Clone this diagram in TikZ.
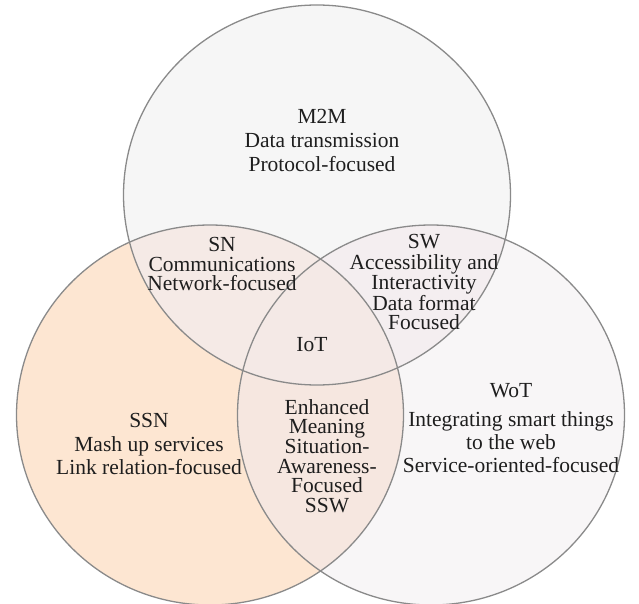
\documentclass[tikz,border=0pt]{standalone}
\usepackage{fontspec}
\setmainfont{Liberation Serif}
\definecolor{ringgray}{HTML}{8A8A8A}
\definecolor{txt}{HTML}{1E1E1E}
\definecolor{topfill}{HTML}{F6F6F6}
\definecolor{leftfill}{HTML}{FDE6D2}
\definecolor{rightfill}{HTML}{F8F6F7}
\definecolor{snfill}{HTML}{F5EAE6}
\definecolor{swfill}{HTML}{F4EEF0}
\definecolor{lensfill}{HTML}{F6E7E0}
\definecolor{iotfill}{HTML}{F4E9E6}
\begin{document}
\begin{tikzpicture}[x=1pt,y=-1pt,
  ring/.style={draw=ringgray,line width=1.3pt},
  lbl/.style={align=center,inner sep=0pt,text=txt,font=\fontsize{21.5}{24}\selectfont},
  tight/.style={font=\fontsize{21.5}{19.6}\selectfont}]
\useasboundingbox (0,0) rectangle (639,604);
\def\rx{193.5pt}
\def\ry{190pt}
\coordinate (cT) at (317,195);
\coordinate (cL) at (210,415);
\coordinate (cR) at (431,415);
% base fills
\fill[topfill] (cT) ellipse[x radius=\rx,y radius=\ry];
\fill[leftfill] (cL) ellipse[x radius=\rx,y radius=\ry];
\fill[rightfill] (cR) ellipse[x radius=\rx,y radius=\ry];
% overlaps
\begin{scope}
  \clip (cL) ellipse[x radius=\rx,y radius=\ry];
  \fill[snfill] (cT) ellipse[x radius=\rx,y radius=\ry];
\end{scope}
\begin{scope}
  \clip (cR) ellipse[x radius=\rx,y radius=\ry];
  \fill[swfill] (cT) ellipse[x radius=\rx,y radius=\ry];
\end{scope}
\begin{scope}
  \clip (cL) ellipse[x radius=\rx,y radius=\ry];
  \fill[lensfill] (cR) ellipse[x radius=\rx,y radius=\ry];
\end{scope}
\begin{scope}
  \clip (cL) ellipse[x radius=\rx,y radius=\ry];
  \clip (cT) ellipse[x radius=\rx,y radius=\ry];
  \fill[iotfill] (cR) ellipse[x radius=\rx,y radius=\ry];
\end{scope}
% outlines
\draw[ring] (cT) ellipse[x radius=\rx,y radius=\ry];
\draw[ring] (cL) ellipse[x radius=\rx,y radius=\ry];
\draw[ring] (cR) ellipse[x radius=\rx,y radius=\ry];
% labels
\node[lbl] (m2m) at (322,140) {M2M\\Data transmission\\Protocol-focused};
\node[lbl,tight] (sn) at (222,264) {SN\\Communications\\Network-focused};
\node[lbl,tight] (sw) at (424,282) {SW\\[2pt]Accessibility and\\Interactivity\\Data format\\Focused};
\node[lbl] (iot) at (312,345) {IoT};
\node[lbl,font=\fontsize{21.5}{23}\selectfont] (wot) at (511,428) {WoT\\[6pt]Integrating smart things\\to the web\\Service-oriented-focused};
\node[lbl,font=\fontsize{21.5}{23.7}\selectfont] (ssn) at (149,444) {SSN\\Mash up services\\Link relation-focused};
\node[lbl,tight] (ssw) at (327,456) {Enhanced\\Meaning\\Situation-\\Awareness-\\Focused\\SSW};
\end{tikzpicture}
\end{document}
